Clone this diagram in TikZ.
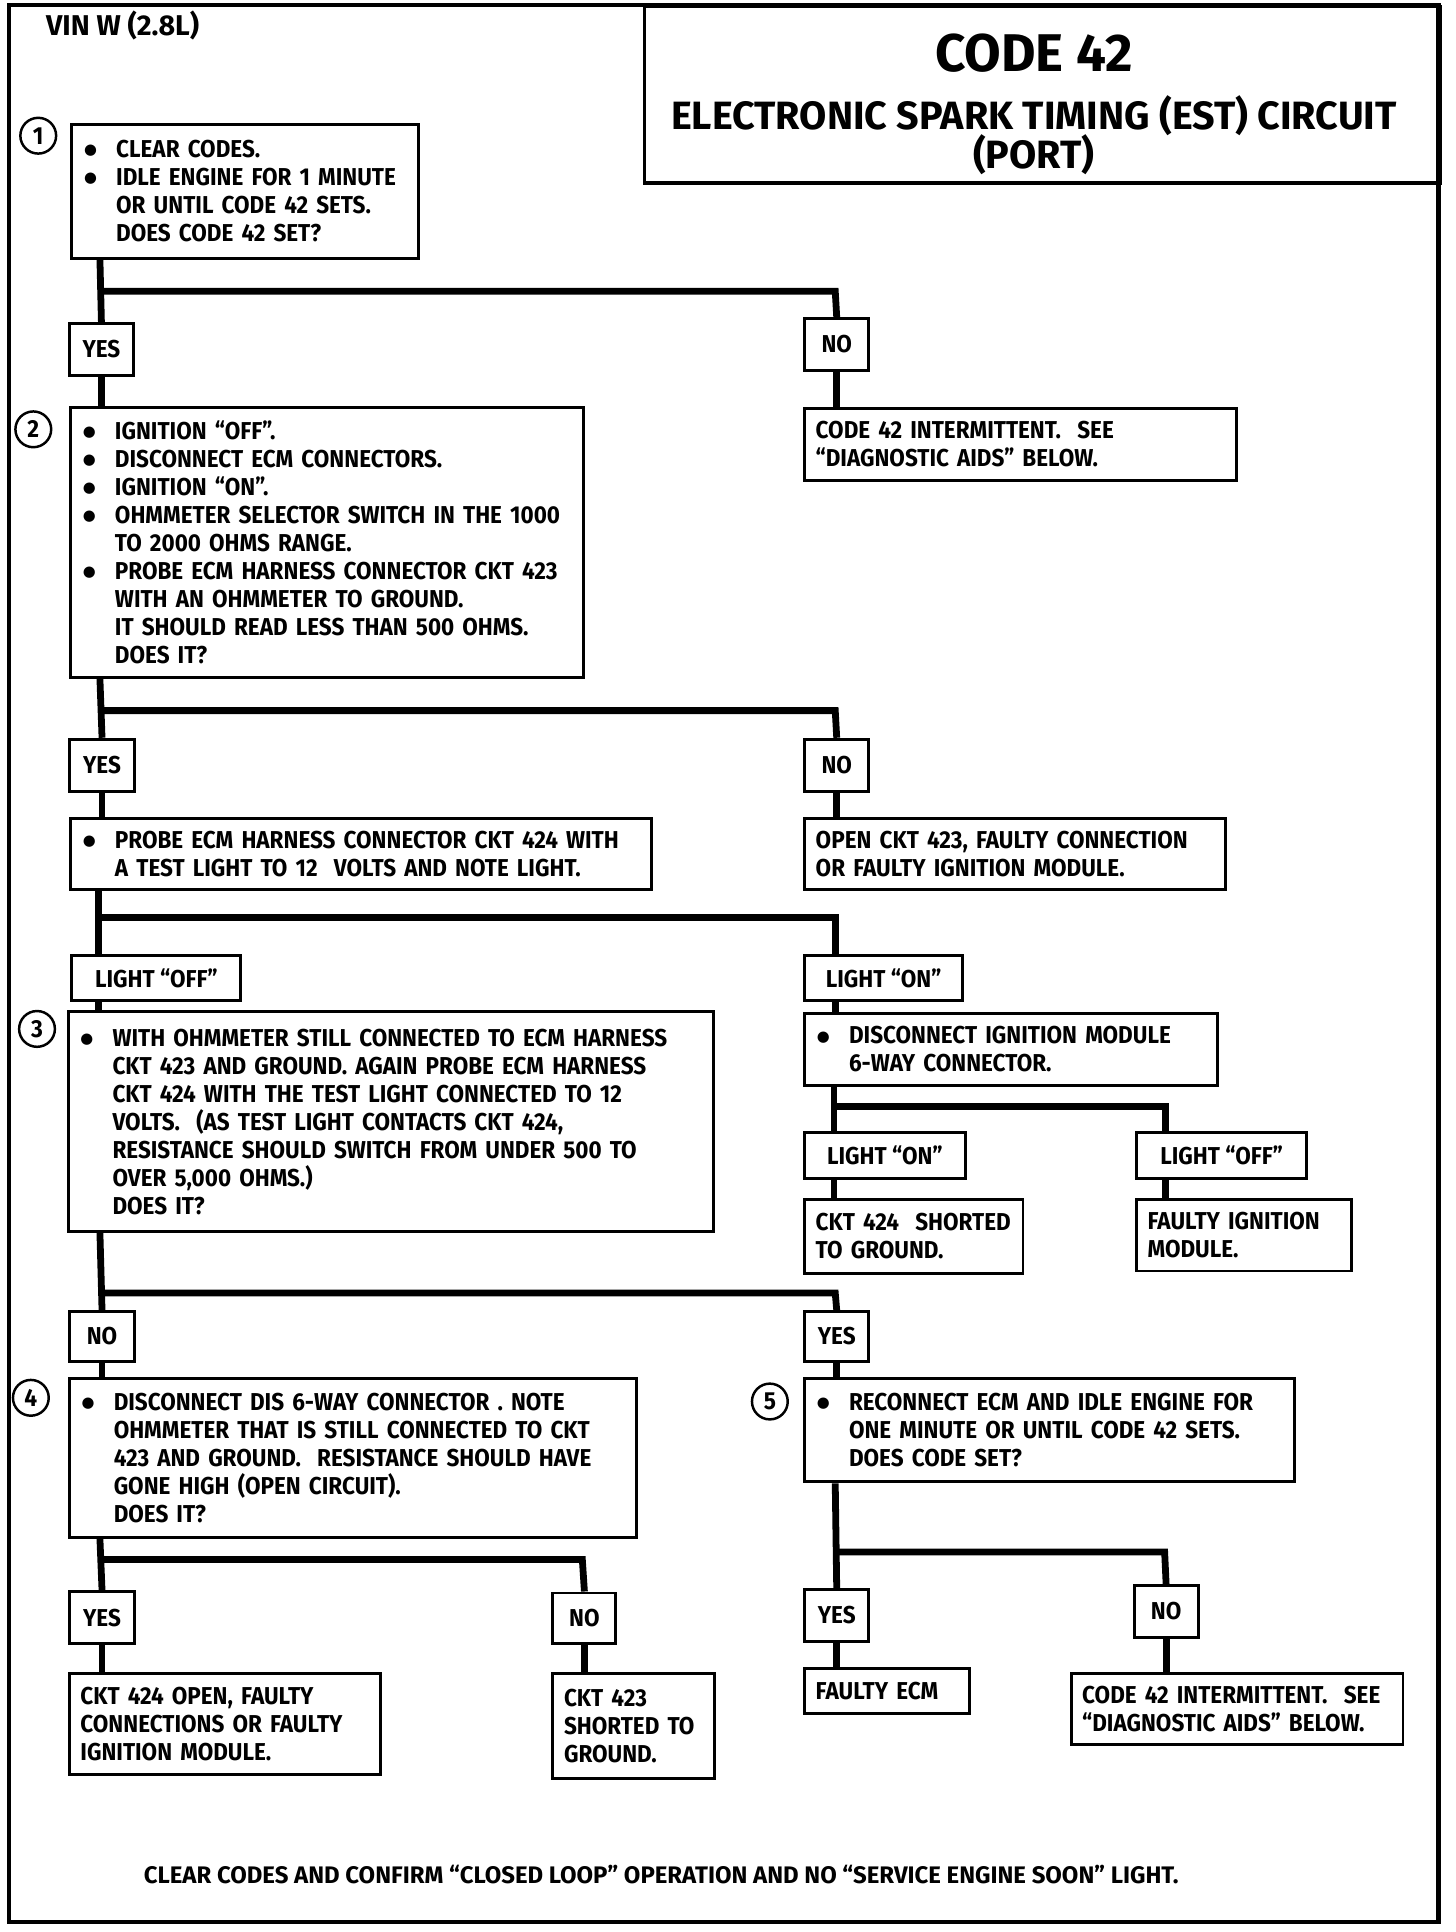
\documentclass[tikz,border=0pt]{standalone}
\usepackage{fontspec}
\setmainfont{Fira Sans}[FakeStretch=0.92]
\newfontfamily\headfont{Fira Sans}
\newfontfamily\dotfont{DejaVu Sans}
\newcommand{\itm}{\makebox[13.5pt][l]{\hspace{0.5pt}\raisebox{1.2pt}{\dotfont\fontsize{6}{6}\selectfont ●}}}
\newcommand{\ind}{\hspace*{13.5pt}}
\begin{document}
\begin{tikzpicture}[x=0.5pt,y=-0.5pt,
        every node/.style={font=\bfseries\fontsize{9.9}{11.35}\selectfont},
        box/.style={draw,line width=1.2pt,anchor=north west,align=left,inner xsep=4.5pt,inner ysep=0pt},
        tag/.style={draw,line width=1.2pt,anchor=north west,inner sep=0pt},
        num/.style={draw,circle,line width=1pt,minimum size=14.5pt,inner sep=0pt,font=\bfseries\fontsize{10}{10}\selectfont},
        wire/.style={line width=2.75pt}]
        \useasboundingbox (0,0) rectangle (1180,1566);
        \draw[line width=1.7pt] (7,4) rectangle (1166,1558);
        \node[anchor=west,inner sep=0pt,font=\headfont\bfseries\fontsize{11.6}{12}\selectfont] (vin) at (37,21) {VIN W (2.8L)};
        \node[draw,line width=1.3pt,anchor=north west,minimum width=322.5pt,minimum height=71.5pt,inner sep=0pt] (head) at (521,4) {};
        \node[font=\headfont\bfseries\fontsize{21.5}{24}\selectfont] (code) at (838,43) {CODE 42};
        \node[font=\headfont\bfseries\fontsize{16}{18}\selectfont] (est) at (838,94) {ELECTRONIC SPARK TIMING (EST) CIRCUIT};
        \node[font=\headfont\bfseries\fontsize{16}{18}\selectfont] (port) at (838,125) {(PORT)};
        % step boxes
        \node[num] (n1) at (31,110) {1};
        \node[box,text width=131.5pt,minimum height=54pt] (step1) at (57,100)
            {\itm CLEAR CODES.\\ \itm IDLE ENGINE FOR 1 MINUTE\\ \ind OR UNTIL CODE 42 SETS.\\ \ind DOES CODE 42 SET?};
        \node[tag,minimum width=26pt,minimum height=21pt] (yesA) at (55,261) {YES};
        \node[tag,minimum width=26pt,minimum height=21pt] (noA) at (651,257) {NO};
        \node[box,text width=166pt,minimum height=29pt] (intermitA) at (651,330)
            {CODE 42 INTERMITTENT.\ \ SEE\\ “DIAGNOSTIC AIDS”\ BELOW.};
        \node[num] (n2) at (27,348) {2};
        \node[box,text width=199pt,minimum height=109.5pt] (step2) at (56,329)
            {\itm IGNITION “OFF”.\\ \itm DISCONNECT ECM CONNECTORS.\\ \itm IGNITION “ON”.\\
             \itm OHMMETER SELECTOR SWITCH IN THE 1000\\ \ind TO 2000 OHMS RANGE.\\
             \itm PROBE ECM HARNESS CONNECTOR CKT 423\\ \ind WITH AN OHMMETER TO GROUND.\\
             \ind IT SHOULD READ LESS THAN 500 OHMS.\\ \ind DOES IT?};
        \node[tag,minimum width=26.5pt,minimum height=21pt] (yesB) at (55,598) {YES};
        \node[tag,minimum width=26pt,minimum height=21pt] (noB) at (651,598) {NO};
        \node[box,text width=226.5pt,minimum height=29pt] (probe) at (56,662)
            {\itm PROBE ECM HARNESS CONNECTOR CKT 424 WITH\\ \ind A TEST LIGHT TO 12\ \ VOLTS AND NOTE LIGHT.};
        \node[box,text width=161.5pt,minimum height=29pt] (open423) at (651,662)
            {OPEN CKT 423, FAULTY CONNECTION\\ OR FAULTY IGNITION MODULE.};
        \node[tag,minimum width=68.5pt,minimum height=18.5pt] (offC) at (57,773) {LIGHT “OFF”};
        \node[tag,minimum width=64pt,minimum height=18.5pt] (onC) at (651,773) {LIGHT “ON”};
        \node[num] (n3) at (30,834) {3};
        \node[box,text width=252.5pt,minimum height=89pt] (step3) at (54,819)
            {\itm WITH OHMMETER STILL CONNECTED TO ECM HARNESS\\ \ind CKT 423 AND GROUND. AGAIN PROBE ECM HARNESS\\
             \ind CKT 424 WITH THE TEST LIGHT CONNECTED TO 12\\ \ind VOLTS.\ \ (AS TEST LIGHT CONTACTS CKT 424,\\
             \ind RESISTANCE SHOULD SWITCH FROM UNDER 500 TO\\ \ind OVER 5,000 OHMS.)\\ \ind DOES IT?};
        \node[box,text width=158.5pt,minimum height=29.5pt] (unplug) at (651,820)
            {\itm DISCONNECT IGNITION MODULE\\ \ind 6-WAY CONNECTOR.};
        \node[tag,minimum width=65pt,minimum height=18.5pt] (onD) at (651,917) {LIGHT “ON”};
        \node[tag,minimum width=69pt,minimum height=18.5pt] (offD) at (920,917) {LIGHT “OFF”};
        \node[box,text width=79.5pt,minimum height=30pt] (short424) at (651,971)
            {CKT 424\ \ SHORTED\\ TO GROUND.};
        \node[box,text width=78pt,minimum height=29pt] (badmod) at (920,971)
            {FAULTY IGNITION\\ MODULE.};
        \node[tag,minimum width=26.5pt,minimum height=20pt] (noE) at (55,1062) {NO};
        \node[tag,minimum width=26pt,minimum height=20pt] (yesE) at (651,1062) {YES};
        \node[num] (n4) at (25,1133) {4};
        \node[box,text width=221pt,minimum height=64.5pt] (step4) at (55,1116)
            {\itm DISCONNECT DIS 6-WAY CONNECTOR . NOTE\\ \ind OHMMETER THAT IS STILL CONNECTED TO CKT\\
             \ind 423 AND GROUND.\ \ RESISTANCE SHOULD HAVE\\ \ind GONE HIGH (OPEN CIRCUIT).\\ \ind DOES IT?};
        \node[num] (n5) at (624,1136) {5};
        \node[box,text width=189.5pt,minimum height=42pt] (step5) at (651,1116)
            {\itm RECONNECT ECM AND IDLE ENGINE FOR\\ \ind ONE MINUTE OR UNTIL CODE 42 SETS.\\ \ind DOES CODE SET?};
        \node[tag,minimum width=26.5pt,minimum height=21pt] (yesF) at (55,1289) {YES};
        \node[tag,minimum width=25.5pt,minimum height=20.5pt] (noF) at (447,1290) {NO};
        \node[tag,minimum width=26pt,minimum height=21pt] (yesG) at (651,1287) {YES};
        \node[tag,minimum width=26pt,minimum height=21pt] (noG) at (918,1284) {NO};
        \node[box,text width=117pt,minimum height=41pt] (open424) at (55,1355)
            {CKT 424 OPEN, FAULTY\\ CONNECTIONS OR FAULTY\\ IGNITION MODULE.};
        \node[box,text width=56.5pt,minimum height=42.5pt] (short423) at (447,1355)
            {CKT 423\\ SHORTED TO\\ GROUND.};
        \node[box,text width=58pt,minimum height=18.5pt] (badecm) at (651,1351) {FAULTY ECM};
        \node[box,text width=125.5pt,minimum height=29pt] (intermitB) at (867,1355)
            {CODE 42 INTERMITTENT.\ \ SEE\\ “DIAGNOSTIC AIDS”\ BELOW.};
        \node[font=\headfont\bfseries\fontsize{9.7}{11}\selectfont] (foot) at (536,1519) {CLEAR CODES AND CONFIRM “CLOSED LOOP” OPERATION AND NO “SERVICE ENGINE SOON” LIGHT.};
        % branches
        \coordinate (jA) at (81,236);  \coordinate (kA) at (677,236);
        \coordinate (jB) at (81,576);  \coordinate (kB) at (677,576);
        \coordinate (jC) at (80,744);  \coordinate (kC) at (677,744);
        \coordinate (jD) at (676,897); \coordinate (kD) at (945,897);
        \coordinate (jE) at (81,1048); \coordinate (kE) at (677,1048);
        \coordinate (jF) at (81,1264); \coordinate (kF) at (472,1264);
        \coordinate (jG) at (677,1258); \coordinate (kG) at (944,1258);
        \draw[wire] (step1.south -| jA) -- (yesA.north);
        \draw[wire] (jA) -- (kA) -- (noA.north);
        \draw[wire] (yesA.south) -- (yesA.south |- step2.north);
        \draw[wire] (noA.south) -- (noA.south |- intermitA.north);
        \draw[wire] (step2.south -| jB) -- (yesB.north);
        \draw[wire] (jB) -- (kB) -- (noB.north);
        \draw[wire] (yesB.south) -- (yesB.south |- probe.north);
        \draw[wire] (noB.south) -- (noB.south |- open423.north);
        \draw[wire] (probe.south -| jC) -- (offC.north -| jC);
        \draw[wire] (jC) -- (kC) -- (onC.north -| kC);
        \draw[wire] (offC.south -| jC) -- (step3.north -| jC);
        \draw[wire] (onC.south -| kC) -- (unplug.north -| kC);
        \draw[wire] (unplug.south -| jD) -- (onD.north -| jD);
        \draw[wire] (jD) -- (kD) -- (offD.north -| kD);
        \draw[wire] (onD.south -| jD) -- (short424.north -| jD);
        \draw[wire] (offD.south -| kD) -- (badmod.north -| kD);
        \draw[wire] (step3.south -| jE) -- (noE.north);
        \draw[wire] (jE) -- (kE) -- (yesE.north);
        \draw[wire] (noE.south) -- (noE.south |- step4.north);
        \draw[wire] (yesE.south) -- (yesE.south |- step5.north);
        \draw[wire] (step4.south -| jF) -- (yesF.north);
        \draw[wire] (jF) -- (kF) -- (noF.north);
        \draw[wire] (yesF.south) -- (yesF.south |- open424.north);
        \draw[wire] (noF.south) -- (noF.south |- short423.north);
        \draw[wire] (step5.south -| jG) -- (yesG.north);
        \draw[wire] (jG) -- (kG) -- (noG.north);
        \draw[wire] (yesG.south) -- (yesG.south |- badecm.north);
        \draw[wire] (noG.south) -- (noG.south |- intermitB.north);
\end{tikzpicture}
\end{document}
